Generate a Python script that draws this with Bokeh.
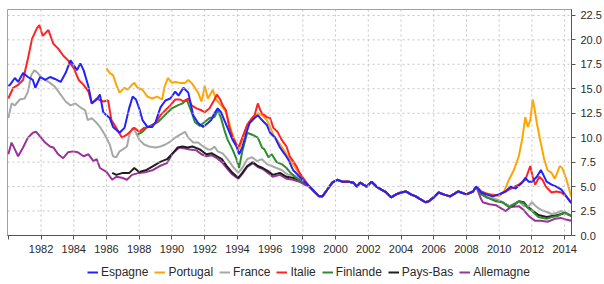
from bokeh.plotting import figure
from bokeh.layouts import column
from bokeh.models import Range1d, FixedTicker, Legend, LegendItem, PrintfTickFormatter, Span
from bokeh.embed import file_html
from bokeh.resources import INLINE

# ---------------- data (10-year government bond yields, %) ----------------
x_ticks = [1980, 1982, 1984, 1986, 1988, 1990, 1992, 1994, 1996, 1998, 2000,
           2002, 2004, 2006, 2008, 2010, 2012, 2014]
y_ticks = [0, 2.5, 5, 7.5, 10, 12.5, 15, 17.5, 20, 22.5]

# common euro-area segment (all series almost identical)
euro_years = [1998.4, 1998.7, 1999.0, 1999.2, 1999.5, 1999.8, 2000.1, 2000.4, 2000.8,
              2001.1, 2001.3, 2001.5, 2001.9, 2002.2, 2002.5, 2002.8, 2003.1, 2003.4,
              2003.7, 2004.0, 2004.3, 2004.6, 2004.9, 2005.2, 2005.5, 2005.7, 2006.0,
              2006.3, 2006.6, 2007.0, 2007.5, 2008.0, 2008.4, 2008.6]
euro_vals = [5.0, 4.5, 4.0, 4.0, 4.7, 5.4, 5.7, 5.5, 5.5,
             5.4, 5.0, 5.4, 5.0, 5.5, 5.0, 4.7, 4.4, 3.9,
             4.2, 4.4, 4.5, 4.2, 4.0, 3.7, 3.4, 3.5, 3.9,
             4.4, 4.2, 4.0, 4.5, 4.2, 4.5, 5.0]

esp_pre_years = [1980.0, 1980.1, 1980.4, 1980.6, 1980.9, 1981.2, 1981.5, 1981.65, 1981.95,
                 1982.25, 1982.55, 1982.85, 1983.2, 1983.5, 1983.8, 1984.0, 1984.2, 1984.4,
                 1984.6, 1984.9, 1985.1, 1985.4, 1985.6, 1985.8, 1986.0, 1986.2, 1986.4,
                 1986.8, 1987.1, 1987.4, 1987.6, 1987.8, 1988.0, 1988.2, 1988.5, 1988.8,
                 1989.0, 1989.3, 1989.6, 1989.9, 1990.2, 1990.4, 1990.7, 1991.0, 1991.3,
                 1991.6, 1991.9, 1992.2, 1992.4, 1992.6, 1992.8, 1993.0, 1993.2, 1993.4,
                 1993.7, 1993.95, 1994.1, 1994.3, 1994.55, 1994.75, 1995.05, 1995.25, 1995.5,
                 1995.8, 1996.0, 1996.3, 1996.6, 1996.9, 1997.1, 1997.4, 1997.7, 1998.1]
esp_pre_vals = [15.3, 15.4, 16.1, 15.7, 16.6, 16.2, 15.9, 15.1, 16.2,
                15.9, 16.2, 16.0, 15.7, 16.6, 17.9, 17.4, 16.9, 17.6,
                16.9, 15.2, 13.5, 13.9, 14.4, 12.6, 12.3, 12.0, 11.1,
                10.5, 11.0, 13.1, 14.2, 13.9, 13.0, 11.8, 11.1, 11.1,
                11.6, 13.1, 13.8, 14.0, 14.7, 14.3, 15.1, 14.6, 12.3,
                11.5, 11.1, 11.5, 11.8, 12.5, 13.0, 12.6, 11.8, 11.0,
                9.8, 9.1, 8.3, 9.0, 10.5, 11.5, 12.0, 12.3, 11.8,
                11.3, 10.5, 10.0, 9.0, 8.3, 7.8, 6.7, 6.2, 5.5]
esp_post_years = [2008.9, 2009.2, 2009.6, 2010.0, 2010.4, 2010.7, 2011.0, 2011.4, 2011.6,
                  2011.8, 2012.0, 2012.3, 2012.55, 2012.7, 2012.9, 2013.2, 2013.5, 2013.8,
                  2014.1, 2014.4]
esp_post_vals = [4.4, 4.2, 4.0, 4.2, 4.5, 5.0, 4.8, 5.4, 5.9,
                 5.5, 5.5, 6.0, 6.7, 6.2, 5.5, 5.2, 5.0, 4.7,
                 4.0, 3.3]

prt_pre_years = [1986.0, 1986.2, 1986.4, 1986.6, 1986.8, 1987.1, 1987.3, 1987.55, 1987.7,
                 1987.9, 1988.2, 1988.5, 1988.8, 1989.1, 1989.4, 1989.55, 1989.75, 1990.0,
                 1990.2, 1990.5, 1990.8, 1991.0, 1991.2, 1991.4, 1991.6, 1991.8, 1991.9,
                 1992.0, 1992.2, 1992.5, 1992.7, 1992.9, 1993.1, 1993.3, 1993.5, 1993.7,
                 1993.95, 1994.1, 1994.3, 1994.6, 1994.9, 1995.25, 1995.5, 1995.8, 1996.2,
                 1996.7, 1997.2, 1997.7, 1998.1]
prt_pre_vals = [17.1, 16.6, 16.4, 15.4, 14.6, 15.1, 14.9, 15.4, 15.6,
                15.1, 14.9, 14.2, 14.0, 14.2, 13.9, 15.2, 16.1, 15.6,
                15.7, 15.6, 15.6, 15.9, 15.6, 15.1, 14.6, 13.7, 14.4,
                15.3, 14.0, 14.9, 13.9, 13.5, 13.1, 12.6, 11.5, 10.3,
                9.3, 8.8, 9.8, 11.3, 12.0, 12.5, 12.3, 11.8, 10.3,
                9.1, 7.8, 6.5, 5.6]
prt_post_years = [2008.9, 2009.2, 2009.6, 2010.0, 2010.3, 2010.6, 2010.9, 2011.2, 2011.4,
                  2011.6, 2011.75, 2011.9, 2012.05, 2012.15, 2012.3, 2012.5, 2012.75, 2012.95,
                  2013.2, 2013.4, 2013.7, 2013.85, 2014.1, 2014.4]
prt_post_vals = [4.5, 4.3, 4.2, 4.0, 4.5, 5.7, 6.7, 8.1, 9.8,
                 12.1, 11.1, 11.8, 13.9, 13.1, 11.5, 9.8, 7.8, 6.7,
                 6.4, 5.8, 7.1, 6.9, 5.8, 4.0]

fra_pre_years = [1980.0, 1980.2, 1980.4, 1980.7, 1981.0, 1981.2, 1981.4, 1981.6, 1981.8,
                 1982.0, 1982.25, 1982.55, 1982.85, 1983.2, 1983.5, 1983.8, 1984.1, 1984.4,
                 1984.7, 1984.85, 1985.1, 1985.4, 1985.6, 1985.9, 1986.2, 1986.4, 1986.6,
                 1986.8, 1987.0, 1987.25, 1987.4, 1987.6, 1987.8, 1988.0, 1988.3, 1988.6,
                 1989.0, 1989.3, 1989.6, 1989.9, 1990.2, 1990.5, 1990.8, 1991.0, 1991.3,
                 1991.6, 1991.9, 1992.2, 1992.4, 1992.6, 1992.8, 1993.1, 1993.4, 1993.7,
                 1994.05, 1994.3, 1994.6, 1994.9, 1995.2, 1995.5, 1995.8, 1996.1, 1996.4,
                 1996.7, 1997.1, 1997.4, 1997.8, 1998.1]
fra_pre_vals = [12.0, 13.5, 13.3, 13.9, 14.0, 14.7, 16.4, 16.9, 16.6,
                16.2, 15.9, 15.6, 15.2, 14.4, 13.7, 13.3, 13.5, 13.1,
                12.8, 11.8, 12.0, 11.5, 11.1, 10.3, 9.3, 8.1, 8.0,
                8.6, 8.8, 9.1, 10.3, 11.0, 10.5, 9.8, 9.3, 9.1,
                9.0, 9.1, 9.3, 9.6, 10.0, 10.3, 10.6, 10.0, 9.5,
                9.5, 9.1, 8.8, 8.8, 9.1, 8.6, 8.4, 7.8, 7.1,
                6.4, 6.9, 7.8, 8.0, 7.6, 7.8, 7.3, 7.1, 6.9,
                6.7, 6.2, 6.2, 5.9, 5.5]
fra_post_years = [2008.9, 2009.2, 2009.6, 2010.0, 2010.3, 2010.6, 2010.9, 2011.2, 2011.5,
                  2011.8, 2012.0, 2012.3, 2012.6, 2012.9, 2013.2, 2013.5, 2013.8, 2014.1,
                  2014.4]
fra_post_vals = [4.3, 3.9, 3.8, 3.6, 3.3, 3.0, 3.2, 3.5, 3.0,
                 3.0, 3.4, 2.9, 2.6, 2.4, 2.2, 2.3, 2.5, 2.2,
                 2.1]

ita_pre_years = [1980.0, 1980.3, 1980.6, 1980.9, 1981.2, 1981.45, 1981.75, 1981.9, 1982.1,
                 1982.45, 1982.75, 1983.05, 1983.35, 1983.65, 1984.0, 1984.3, 1984.6, 1984.9,
                 1985.1, 1985.4, 1985.8, 1986.1, 1986.3, 1986.6, 1986.95, 1987.25, 1987.55,
                 1987.7, 1988.0, 1988.3, 1988.6, 1989.0, 1989.3, 1989.6, 1989.9, 1990.2,
                 1990.5, 1990.7, 1991.0, 1991.2, 1991.5, 1991.8, 1992.0, 1992.3, 1992.6,
                 1992.75, 1992.95, 1993.1, 1993.3, 1993.5, 1993.7, 1993.95, 1994.1, 1994.3,
                 1994.6, 1994.9, 1995.05, 1995.25, 1995.4, 1995.5, 1995.8, 1996.0, 1996.2,
                 1996.45, 1996.7, 1997.0, 1997.2, 1997.4, 1997.6, 1997.8, 1998.1]
ita_pre_vals = [14.0, 15.1, 15.4, 15.9, 18.1, 20.1, 21.2, 21.5, 20.4,
                21.0, 19.6, 19.1, 18.4, 17.9, 17.1, 15.9, 15.4, 14.7,
                13.5, 14.0, 13.7, 13.8, 11.8, 11.0, 10.0, 10.3, 10.8,
                11.0, 10.6, 11.0, 11.1, 11.5, 12.3, 12.8, 13.3, 13.9,
                13.9, 13.7, 14.0, 13.3, 13.0, 12.8, 12.6, 13.0, 13.9,
                14.4, 13.9, 13.3, 12.8, 11.1, 10.1, 9.3, 9.1, 10.0,
                11.3, 12.0, 12.3, 13.5, 12.8, 12.5, 12.1, 12.0, 11.0,
                10.6, 9.8, 9.1, 8.1, 7.6, 7.1, 6.4, 5.7]
ita_post_years = [2008.9, 2009.2, 2009.6, 2010.0, 2010.6, 2011.2, 2011.6, 2011.9, 2012.05,
                  2012.2, 2012.45, 2012.65, 2012.85, 2013.2, 2013.5, 2013.8, 2014.1, 2014.4]
ita_post_vals = [4.5, 4.3, 4.1, 4.2, 4.7, 5.2, 5.7, 7.1, 6.0,
                 5.2, 6.0, 5.7, 5.0, 4.4, 4.5, 4.4, 4.0, 3.4]

fin_pre_years = [1987.9, 1988.2, 1988.5, 1988.8, 1989.15, 1989.45, 1989.75, 1990.0, 1990.35,
                 1990.65, 1990.9, 1991.2, 1991.4, 1991.7, 1992.0, 1992.3, 1992.6, 1992.8,
                 1993.0, 1993.2, 1993.4, 1993.7, 1993.95, 1994.1, 1994.3, 1994.6, 1994.9,
                 1995.25, 1995.5, 1995.65, 1995.9, 1996.1, 1996.4, 1996.7, 1997.0, 1997.2,
                 1997.5, 1997.8, 1998.1]
fin_pre_vals = [10.3, 10.6, 11.1, 11.3, 11.6, 12.1, 12.6, 13.0, 13.3,
                13.5, 13.9, 12.6, 11.6, 11.2, 11.6, 12.0, 12.1, 12.8,
                12.0, 10.8, 9.8, 8.8, 7.8, 6.9, 8.6, 10.5, 10.3,
                10.0, 9.0, 8.8, 8.0, 8.3, 7.5, 7.3, 6.9, 6.5,
                6.0, 5.7, 5.4]
fin_post_years = [2008.9, 2009.25, 2009.8, 2010.2, 2010.6, 2010.9, 2011.2, 2011.5, 2011.7,
                  2012.0, 2012.4, 2012.9, 2013.25, 2013.6, 2014.0, 2014.4]
fin_post_vals = [4.2, 3.9, 3.5, 3.4, 2.9, 3.2, 3.5, 3.3, 2.9,
                 2.5, 1.9, 1.7, 1.9, 2.0, 2.4, 2.0]

nld_pre_years = [1986.35, 1986.6, 1987.0, 1987.4, 1987.7, 1988.0, 1988.45, 1988.85, 1989.25,
                 1989.7, 1990.05, 1990.35, 1990.65, 1990.95, 1991.25, 1991.7, 1992.1, 1992.45,
                 1992.75, 1993.05, 1993.35, 1993.65, 1994.05, 1994.3, 1994.6, 1994.95, 1995.25,
                 1995.55, 1995.95, 1996.15, 1996.6, 1997.0, 1997.4, 1997.8, 1998.1]
nld_pre_vals = [6.4, 6.2, 6.4, 6.4, 6.9, 6.5, 6.7, 7.1, 7.5,
                7.8, 8.4, 9.0, 9.1, 9.0, 9.1, 8.8, 8.3, 8.4,
                8.1, 7.8, 7.1, 6.5, 5.9, 6.4, 7.1, 7.5, 7.1,
                6.9, 6.5, 6.2, 6.4, 6.0, 5.9, 5.7, 5.4]
nld_post_years = [2008.9, 2009.25, 2009.8, 2010.2, 2010.6, 2010.9, 2011.2, 2011.5, 2011.7,
                  2012.0, 2012.4, 2012.9, 2013.25, 2013.6, 2014.0, 2014.4]
nld_post_vals = [4.3, 3.9, 3.6, 3.4, 3.0, 3.1, 3.5, 3.4, 3.0,
                 2.6, 2.1, 1.9, 2.0, 2.1, 2.3, 2.0]

deu_pre_years = [1980.0, 1980.2, 1980.4, 1980.6, 1980.9, 1981.2, 1981.5, 1981.7, 1981.95,
                 1982.25, 1982.55, 1982.75, 1983.05, 1983.35, 1983.65, 1983.95, 1984.25, 1984.6,
                 1984.9, 1985.2, 1985.4, 1985.6, 1986.0, 1986.35, 1986.6, 1986.95, 1987.25,
                 1987.55, 1988.0, 1988.45, 1988.85, 1989.25, 1989.7, 1990.05, 1990.45, 1990.8,
                 1991.1, 1991.5, 1991.8, 1992.1, 1992.45, 1992.75, 1993.05, 1993.35, 1993.65,
                 1994.05, 1994.3, 1994.6, 1994.95, 1995.25, 1995.55, 1995.95, 1996.15, 1996.6,
                 1997.0, 1997.4, 1997.8, 1998.1]
deu_pre_vals = [8.3, 9.5, 8.8, 8.1, 9.0, 10.0, 10.5, 10.6, 10.1,
                9.5, 9.1, 9.0, 8.3, 7.9, 8.5, 8.6, 8.5, 8.1,
                8.3, 7.6, 7.8, 6.9, 6.5, 5.7, 6.0, 5.9, 5.7,
                6.2, 6.4, 6.5, 6.7, 7.1, 7.4, 8.4, 9.0, 8.9,
                8.8, 8.7, 8.3, 8.1, 8.2, 7.9, 7.5, 6.9, 6.3,
                5.8, 6.3, 7.0, 7.4, 7.0, 6.8, 6.3, 6.0, 6.2,
                5.8, 5.7, 5.5, 5.2]
deu_post_years = [2008.9, 2009.0, 2009.4, 2009.8, 2010.0, 2010.4, 2010.7, 2011.2, 2011.5,
                  2011.8, 2012.2, 2012.55, 2012.95, 2013.4, 2013.75, 2014.15, 2014.4]
deu_post_vals = [3.7, 3.4, 3.2, 3.1, 2.9, 2.5, 2.9, 3.0, 2.6,
                 2.0, 1.5, 1.5, 1.4, 1.7, 1.8, 1.6, 1.5]

series = [
    # name, pre years, pre vals, post years, post vals, colour
    ("Espagne", esp_pre_years, esp_pre_vals, esp_post_years, esp_post_vals, "#2222ff"),
    ("Portugal", prt_pre_years, prt_pre_vals, prt_post_years, prt_post_vals, "#ffa500"),
    ("France", fra_pre_years, fra_pre_vals, fra_post_years, fra_post_vals, "#a8a8a8"),
    ("Italie", ita_pre_years, ita_pre_vals, ita_post_years, ita_post_vals, "#ff2222"),
    ("Finlande", fin_pre_years, fin_pre_vals, fin_post_years, fin_post_vals, "#2e8b2e"),
    ("Pays-Bas", nld_pre_years, nld_pre_vals, nld_post_years, nld_post_vals, "#1e1e1e"),
    ("Allemagne", deu_pre_years, deu_pre_vals, deu_post_years, deu_post_vals, "#993399"),
]
draw_order = ["Allemagne", "Pays-Bas", "France", "Finlande", "Portugal", "Italie", "Espagne"]

# ---------------- main chart ----------------
p = figure(width=604, height=257, output_backend="svg", toolbar_location=None,
           x_range=Range1d(1979.95, 2014.42), y_range=Range1d(0, 23.1),
           y_axis_location="right",
           min_border_left=7, min_border_top=9, min_border_right=0, min_border_bottom=0)
p.background_fill_color = "white"
p.border_fill_color = "white"
p.outline_line_color = "#a0a0a0"
p.outline_line_width = 1

# dotted grid drawn as spans at the tick positions, beneath the data lines
p.xgrid.visible = False
p.ygrid.visible = False
for t in x_ticks[1:]:
    p.add_layout(Span(location=t, dimension="height", line_color="#c4c4c4",
                      line_width=1, line_dash="2 3", level="glyph"))
for t in y_ticks[1:]:
    p.add_layout(Span(location=t, dimension="width", line_color="#c4c4c4",
                      line_width=1, line_dash="2 3", level="glyph"))

for name in draw_order:
    s = [t for t in series if t[0] == name][0]
    xs = s[1] + euro_years + s[3]
    ys = s[2] + euro_vals + s[4]
    p.line(xs, ys, line_color=s[5], line_width=2)

xa = p.xaxis[0]
xa.ticker = FixedTicker(ticks=x_ticks)
xa.major_label_overrides = {1980: " "}
ya = p.yaxis[0]
ya.ticker = FixedTicker(ticks=y_ticks)
ya.formatter = PrintfTickFormatter(format="%.1f")
for ax in (xa, ya):
    ax.minor_tick_line_color = None
    ax.axis_line_color = "#555555"
    ax.major_tick_line_color = "#555555"
    ax.major_tick_in = 0
    ax.major_tick_out = 4
    ax.major_label_text_font = "Liberation Sans"
    ax.major_label_text_font_size = "11px"
    ax.major_label_text_color = "#2a2a2a"
xa.major_label_standoff = 3
ya.major_label_standoff = 5

# ---------------- legend strip ----------------
lf = figure(width=604, height=27, output_backend="svg", toolbar_location=None,
            x_range=Range1d(0, 1), y_range=Range1d(0, 1),
            x_axis_location=None, y_axis_location=None,
            min_border_left=0, min_border_top=0, min_border_right=0, min_border_bottom=0)
lf.outline_line_color = None
lf.xgrid.visible = False
lf.ygrid.visible = False
items = []
for s in series:
    # legend swatches only: the line itself lies outside the strip's visible range
    r = lf.line([5, 6], [5, 6], line_color=s[5], line_width=2)
    items.append(LegendItem(label=s[0], renderers=[r]))
legend = Legend(items=items, orientation="horizontal", location=(79, 4))
legend.label_text_font = "Liberation Sans"
legend.label_text_font_size = "12px"
legend.label_text_color = "#2a2a2a"
legend.glyph_width = 11
legend.glyph_height = 12
legend.label_standoff = 3
legend.spacing = 6
legend.padding = 1
legend.margin = 0
legend.border_line_alpha = 0
legend.background_fill_alpha = 0
lf.add_layout(legend, "center")

layout = column(p, lf, spacing=0)
open("out.html", "w").write(file_html(layout, INLINE))
